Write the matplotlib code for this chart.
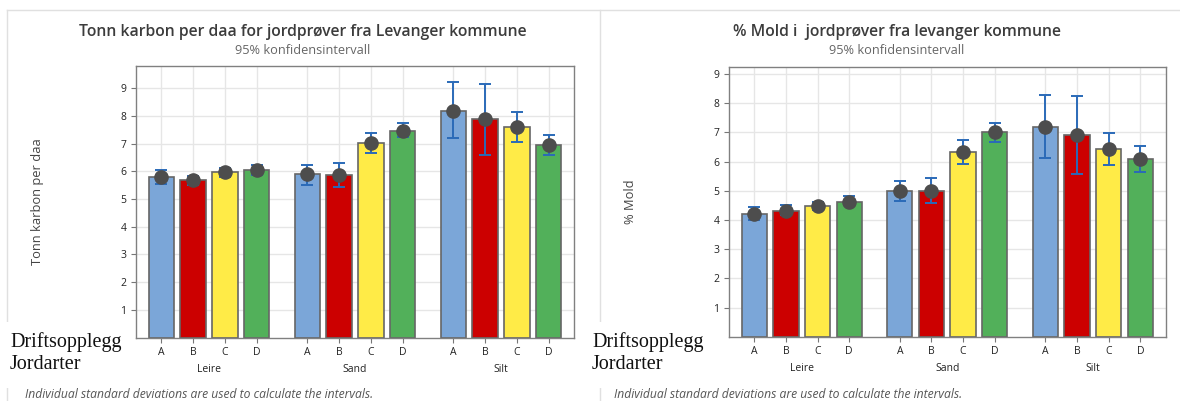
import matplotlib.pyplot as plt
import numpy as np
from matplotlib.patches import Rectangle
from matplotlib.lines import Line2D

# data
groups = ['Leire', 'Sand', 'Silt']
levels = ['A', 'B', 'C', 'D']

karbon_mean = [5.80, 5.68, 5.98, 6.06, 5.90, 5.87, 7.02, 7.46, 8.17, 7.88, 7.58, 6.95]
karbon_low = [5.53, 5.50, 5.80, 5.87, 5.51, 5.42, 6.65, 7.22, 7.19, 6.59, 7.07, 6.58]
karbon_high = [6.05, 5.83, 6.12, 6.23, 6.24, 6.31, 7.38, 7.73, 9.23, 9.14, 8.13, 7.31]

mold_mean = [4.22, 4.31, 4.47, 4.62, 4.99, 4.99, 6.33, 7.01, 7.18, 6.91, 6.44, 6.10]
mold_low = [4.01, 4.16, 4.33, 4.51, 4.65, 4.58, 5.92, 6.68, 6.12, 5.56, 5.87, 5.65]
mold_high = [4.43, 4.50, 4.60, 4.82, 5.34, 5.45, 6.73, 7.32, 8.28, 8.25, 6.97, 6.52]

colors = ['#7BA6D8', '#CC0000', '#FFEB47', '#52B05A']

plt.rcParams['font.family'] = ['Open Sans', 'DejaVu Sans']

fig = plt.figure(figsize=(11.8, 4.01), dpi=100)
W, H = 1180, 401


def fx(px):
    return px / W


def fy(py):
    return 1 - py / H


pos = np.array([g * 4.6 + i for g in range(3) for i in range(4)])


def draw_chart(rect, mean, low, high, ymax, title, ylabel, ylab_x, cx):
    ax = fig.add_axes(rect)
    mean = np.array(mean)
    low = np.array(low)
    high = np.array(high)
    ax.bar(pos, mean, width=0.8, color=colors * 3, edgecolor='#666666', linewidth=1.2, zorder=2)
    ax.errorbar(pos, mean, yerr=[mean - low, high - mean], fmt='none', ecolor='#2A6AB8',
                elinewidth=1.4, capsize=4.5, capthick=1.4, zorder=3)
    ax.plot(pos, mean, 'o', color='#4D4D4D', ms=9.5, zorder=4)
    ax.set_xlim(-0.8, 13.0)
    ax.set_ylim(0, ymax)
    ax.set_yticks(range(1, 10))
    ax.set_xticks(pos)
    ax.set_xticklabels(levels * 3)
    ax.tick_params(labelsize=7.5, length=3.5, color='#777777', labelcolor='#222222', width=0.8)
    ax.grid(True, color='#E6E6E6', linewidth=1.0, zorder=0)
    ax.set_axisbelow(True)
    for s in ax.spines.values():
        s.set_color('#808080')
        s.set_linewidth(1.0)
    for g in range(3):
        ax.text(pos[g * 4:g * 4 + 4].mean(), -0.118, groups[g], transform=ax.get_xaxis_transform(),
                ha='center', va='center', fontsize=7.5, color='#222222')
    fig.text(fx(cx), fy(32), title, ha='center', va='center', fontsize=11.3,
             fontweight='semibold', color='#3C3C3C')
    fig.text(fx(cx), fy(50), '95% konfidensintervall', ha='center', va='center',
             fontsize=9.2, color='#666666')
    fig.text(fx(ylab_x), (rect[1] + rect[1] + rect[3]) / 2, ylabel, rotation=90,
             ha='center', va='center', fontsize=9.3, color='#444444')
    return ax


draw_chart([fx(136), fy(337.5), fx(574 - 136), (337.5 - 65.7) / H], karbon_mean, karbon_low,
           karbon_high, 9.81, 'Tonn karbon per daa for jordprøver fra Levanger kommune',
           'Tonn karbon per daa', 37, 303)
draw_chart([fx(729), fy(336.7), fx(1165.6 - 729), (336.7 - 67.3) / H], mold_mean, mold_low,
           mold_high, 9.23, '% Mold i  jordprøver fra levanger kommune', '% Mold', 630, 897)

# panel borders
for xs, ys in [([7, W], [10, 10]), ([7, 7], [10, H]), ([600, 600], [10, H])]:
    fig.add_artist(Line2D([fx(x) for x in xs], [fy(y) for y in ys], color='#E0E0E0', lw=1.0, zorder=0))

# footnotes
for x0 in [25, 614]:
    fig.text(fx(x0), fy(394), 'Individual standard deviations are used to calculate the intervals.',
             ha='left', va='center', fontsize=8.7, style='italic', color='#555555')

# pasted text boxes on top
for x0, x1 in [(0, 133), (577, 726)]:
    fig.add_artist(Rectangle((fx(x0), fy(388)), fx(x1 - x0), (388 - 322) / H,
                             transform=fig.transFigure, facecolor='white', edgecolor='none', zorder=5))
for x0 in [10, 592]:
    fig.text(fx(x0), fy(353), 'Driftsopplegg\nJordarter', ha='left', va='center', fontsize=14.5,
             family='Liberation Serif', color='#111111', linespacing=1.25, zorder=6)

fig.savefig('out.png', dpi=100)
